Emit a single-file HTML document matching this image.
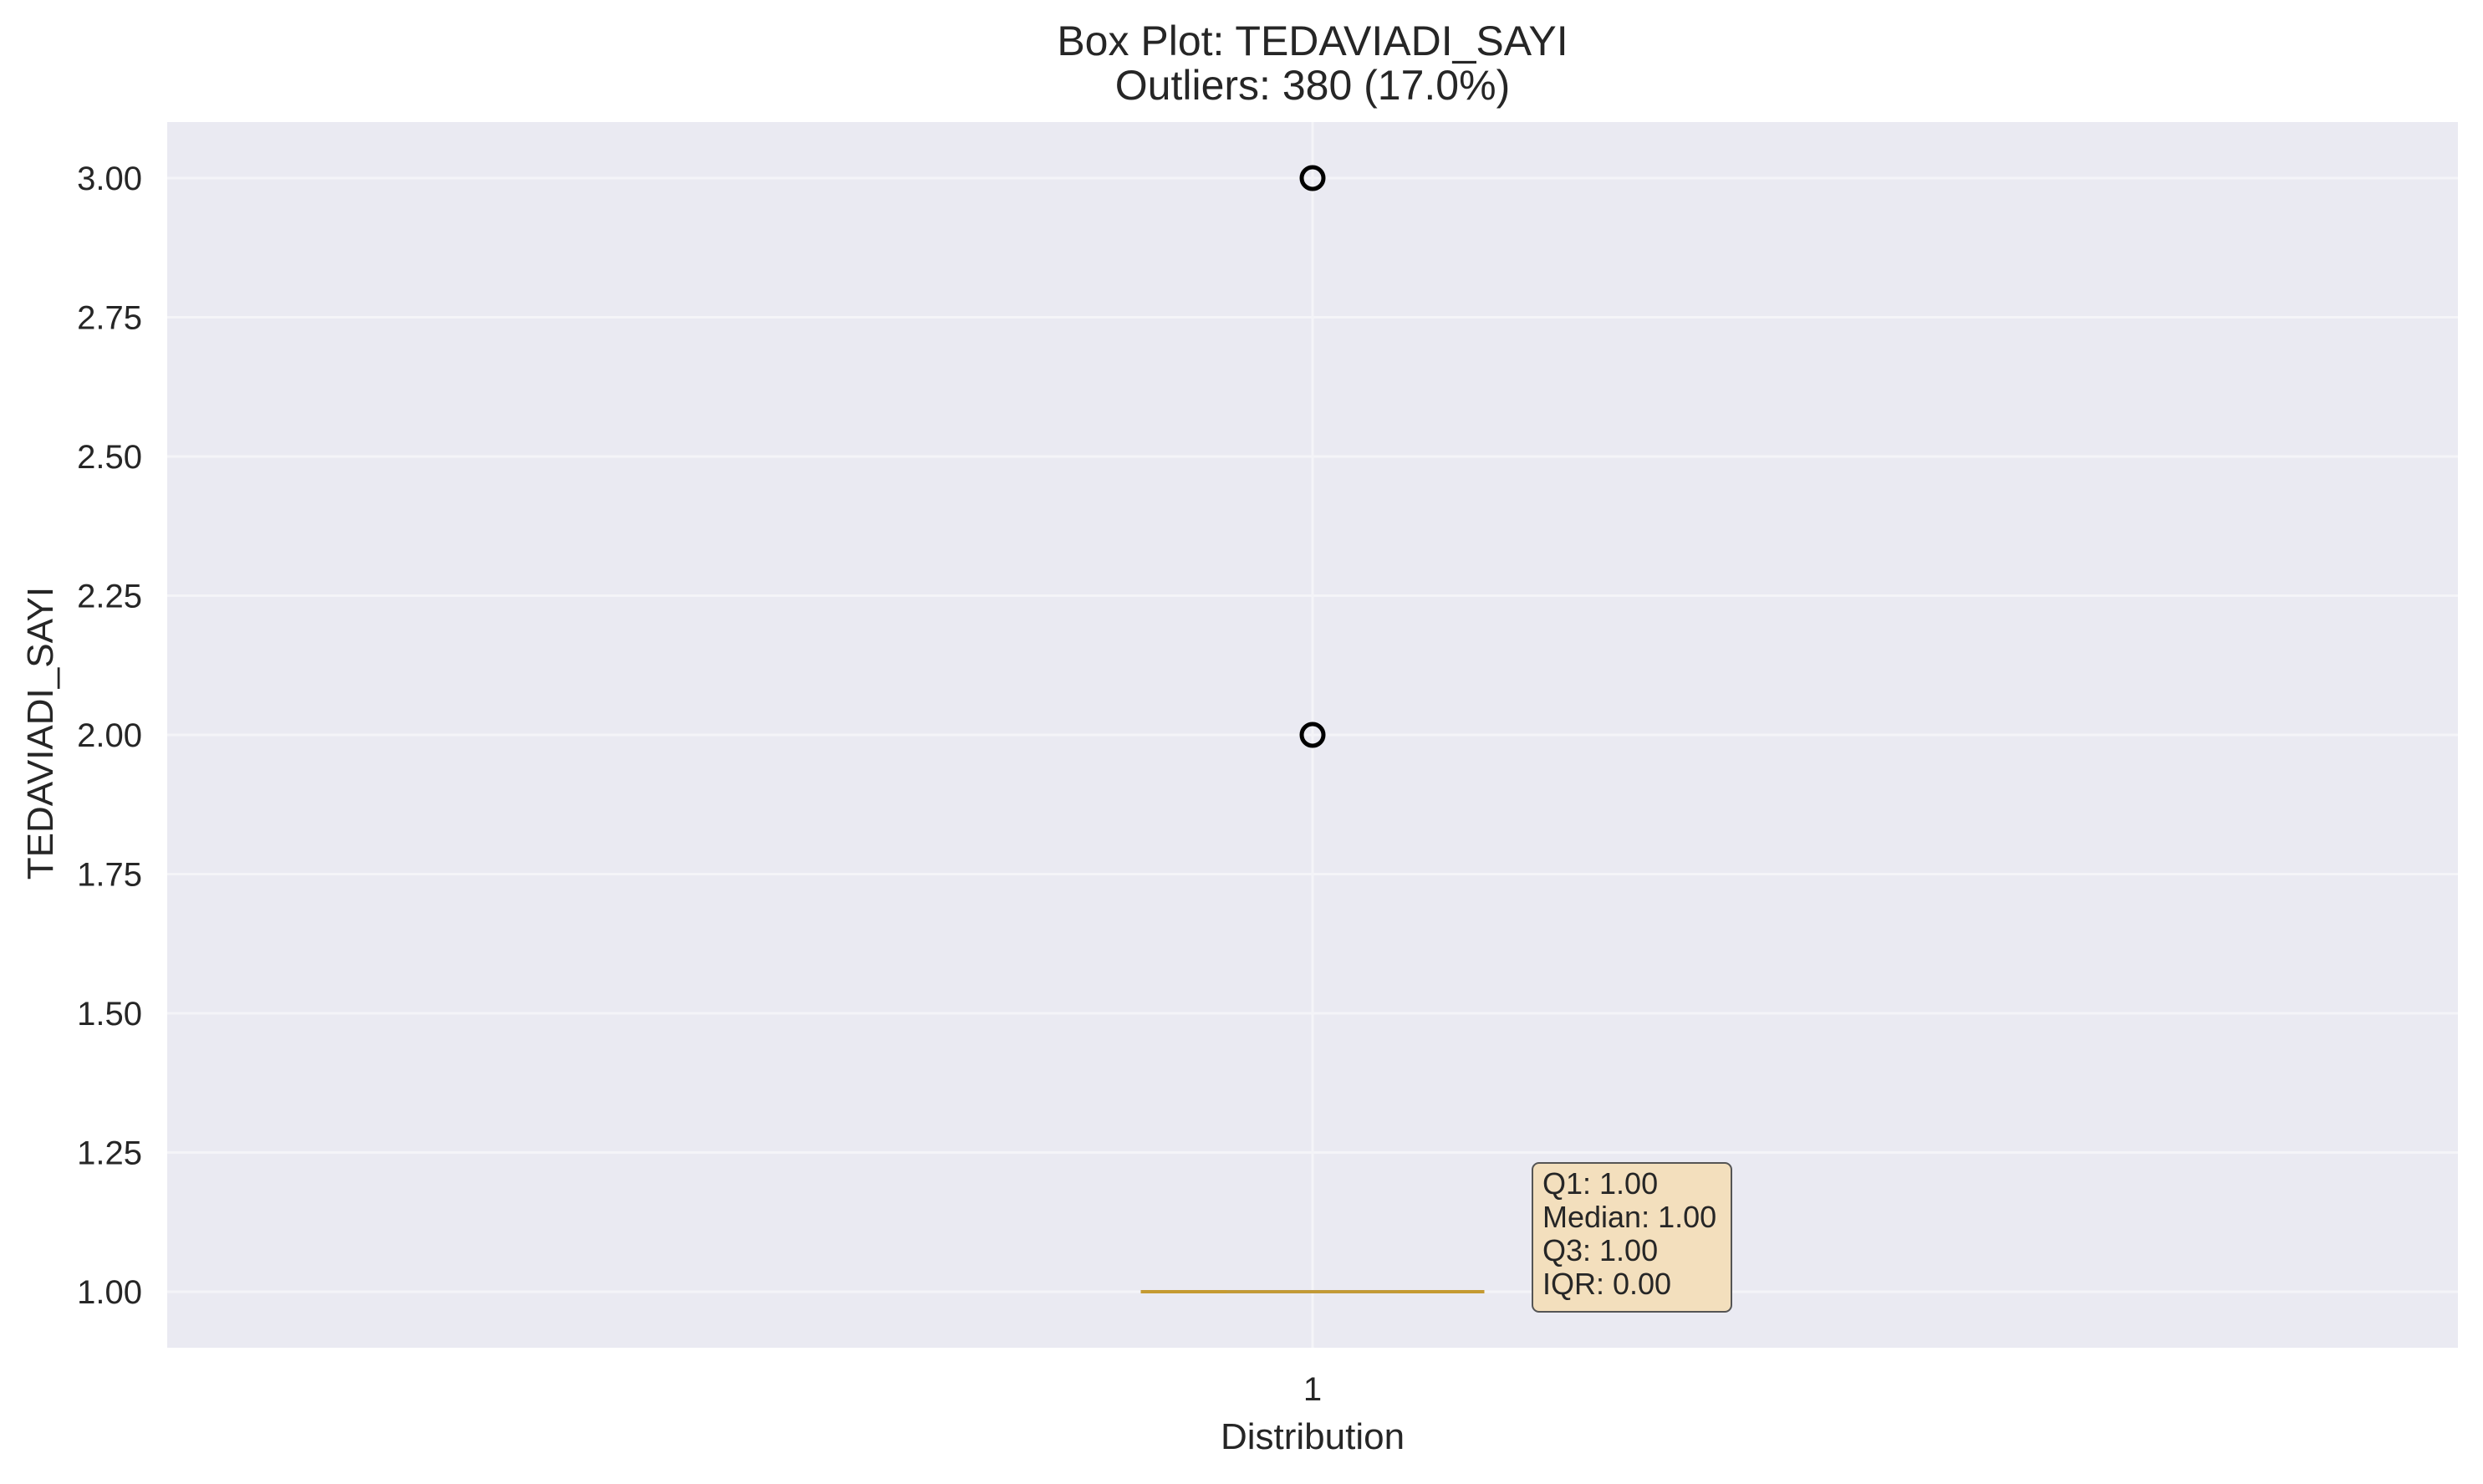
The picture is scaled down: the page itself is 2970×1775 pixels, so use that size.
<!DOCTYPE html>
<html><head><meta charset="utf-8"><style>
body{margin:0;background:#fff}
svg text{font-family:"Liberation Sans",Arial,sans-serif;fill:#262626}
</style></head><body>
<svg width="2970" height="1770" xmlns="http://www.w3.org/2000/svg">
<text x="1570" y="66" font-size="50" text-anchor="middle">Box Plot: TEDAVIADI_SAYI</text>
<text x="1570" y="119" font-size="50" text-anchor="middle">Outliers: 380 (17.0%)</text>
<rect x="200" y="146" width="2740" height="1466" fill="#eaeaf2"/>
<g id="grid"></g>
<g id="marks"></g>
<text x="1570" y="1675" font-size="40" text-anchor="middle">1</text>
<text x="1570" y="1733" font-size="44" text-anchor="middle">Distribution</text>
<text transform="translate(63,877) rotate(-90)" font-size="44" text-anchor="middle">TEDAVIADI_SAYI</text>
<g>
<rect x="1833" y="1391" width="238" height="178" rx="8" fill="#f3dfbd" stroke="#555" stroke-width="2"/>
<text x="1845" y="1428" font-size="36">Q1: 1.00</text>
<text x="1845" y="1468" font-size="36">Median: 1.00</text>
<text x="1845" y="1508" font-size="36">Q3: 1.00</text>
<text x="1845" y="1548" font-size="36">IQR: 0.00</text>
</g>
</svg>
<script>
const yTicks=[1.00,1.25,1.50,1.75,2.00,2.25,2.50,2.75,3.00];
const stats=[1.00,1.00,1.00,1.00,1.00]; // whislo,q1,median,q3,whishi
const outliers=[2,3];
const NS="http://www.w3.org/2000/svg";
const y=v=>213+(3-v)*666;
const x=v=>200+(v-0.5)*2740;
function mk(t,a,p){const e=document.createElementNS(NS,t);for(const k in a)e.setAttribute(k,a[k]);p.appendChild(e);return e;}
const grid=document.getElementById('grid'),marks=document.getElementById('marks'),svg=document.querySelector('svg');
yTicks.forEach(v=>{
 const l=mk('line',{x1:200,x2:2940,y1:y(v),y2:y(v),stroke:'#f4f4f8','stroke-width':3},grid);
 
 
 const t=mk('text',{x:170,y:y(v)+14,'font-size':40,'text-anchor':'end'},svg);
 t.textContent=v.toFixed(2);
 
 
});
const vg=mk('line',{x1:x(1),x2:x(1),y1:146,y2:1612,stroke:'#f4f4f8','stroke-width':3},grid);


const box=mk('rect',{x:x(0.925),y:y(stats[3])-2,width:x(1.075)-x(0.925),height:y(stats[1])-y(stats[3])+4,fill:'#c49a32'},marks);


const cap=mk('rect',{x:x(0.9625),y:y(stats[4])-2,width:x(1.0375)-x(0.9625),height:4,fill:'#b89a52'},marks);


const med=mk('line',{x1:x(0.925),x2:x(1.075),y1:y(stats[2]),y2:y(stats[2]),stroke:'#c49a32','stroke-width':3},marks);


outliers.forEach(v=>{
 const c=mk('circle',{cx:x(1),cy:y(v),r:13,fill:'none',stroke:'#000','stroke-width':5},marks);
 
 
});
</script>
</body></html>
